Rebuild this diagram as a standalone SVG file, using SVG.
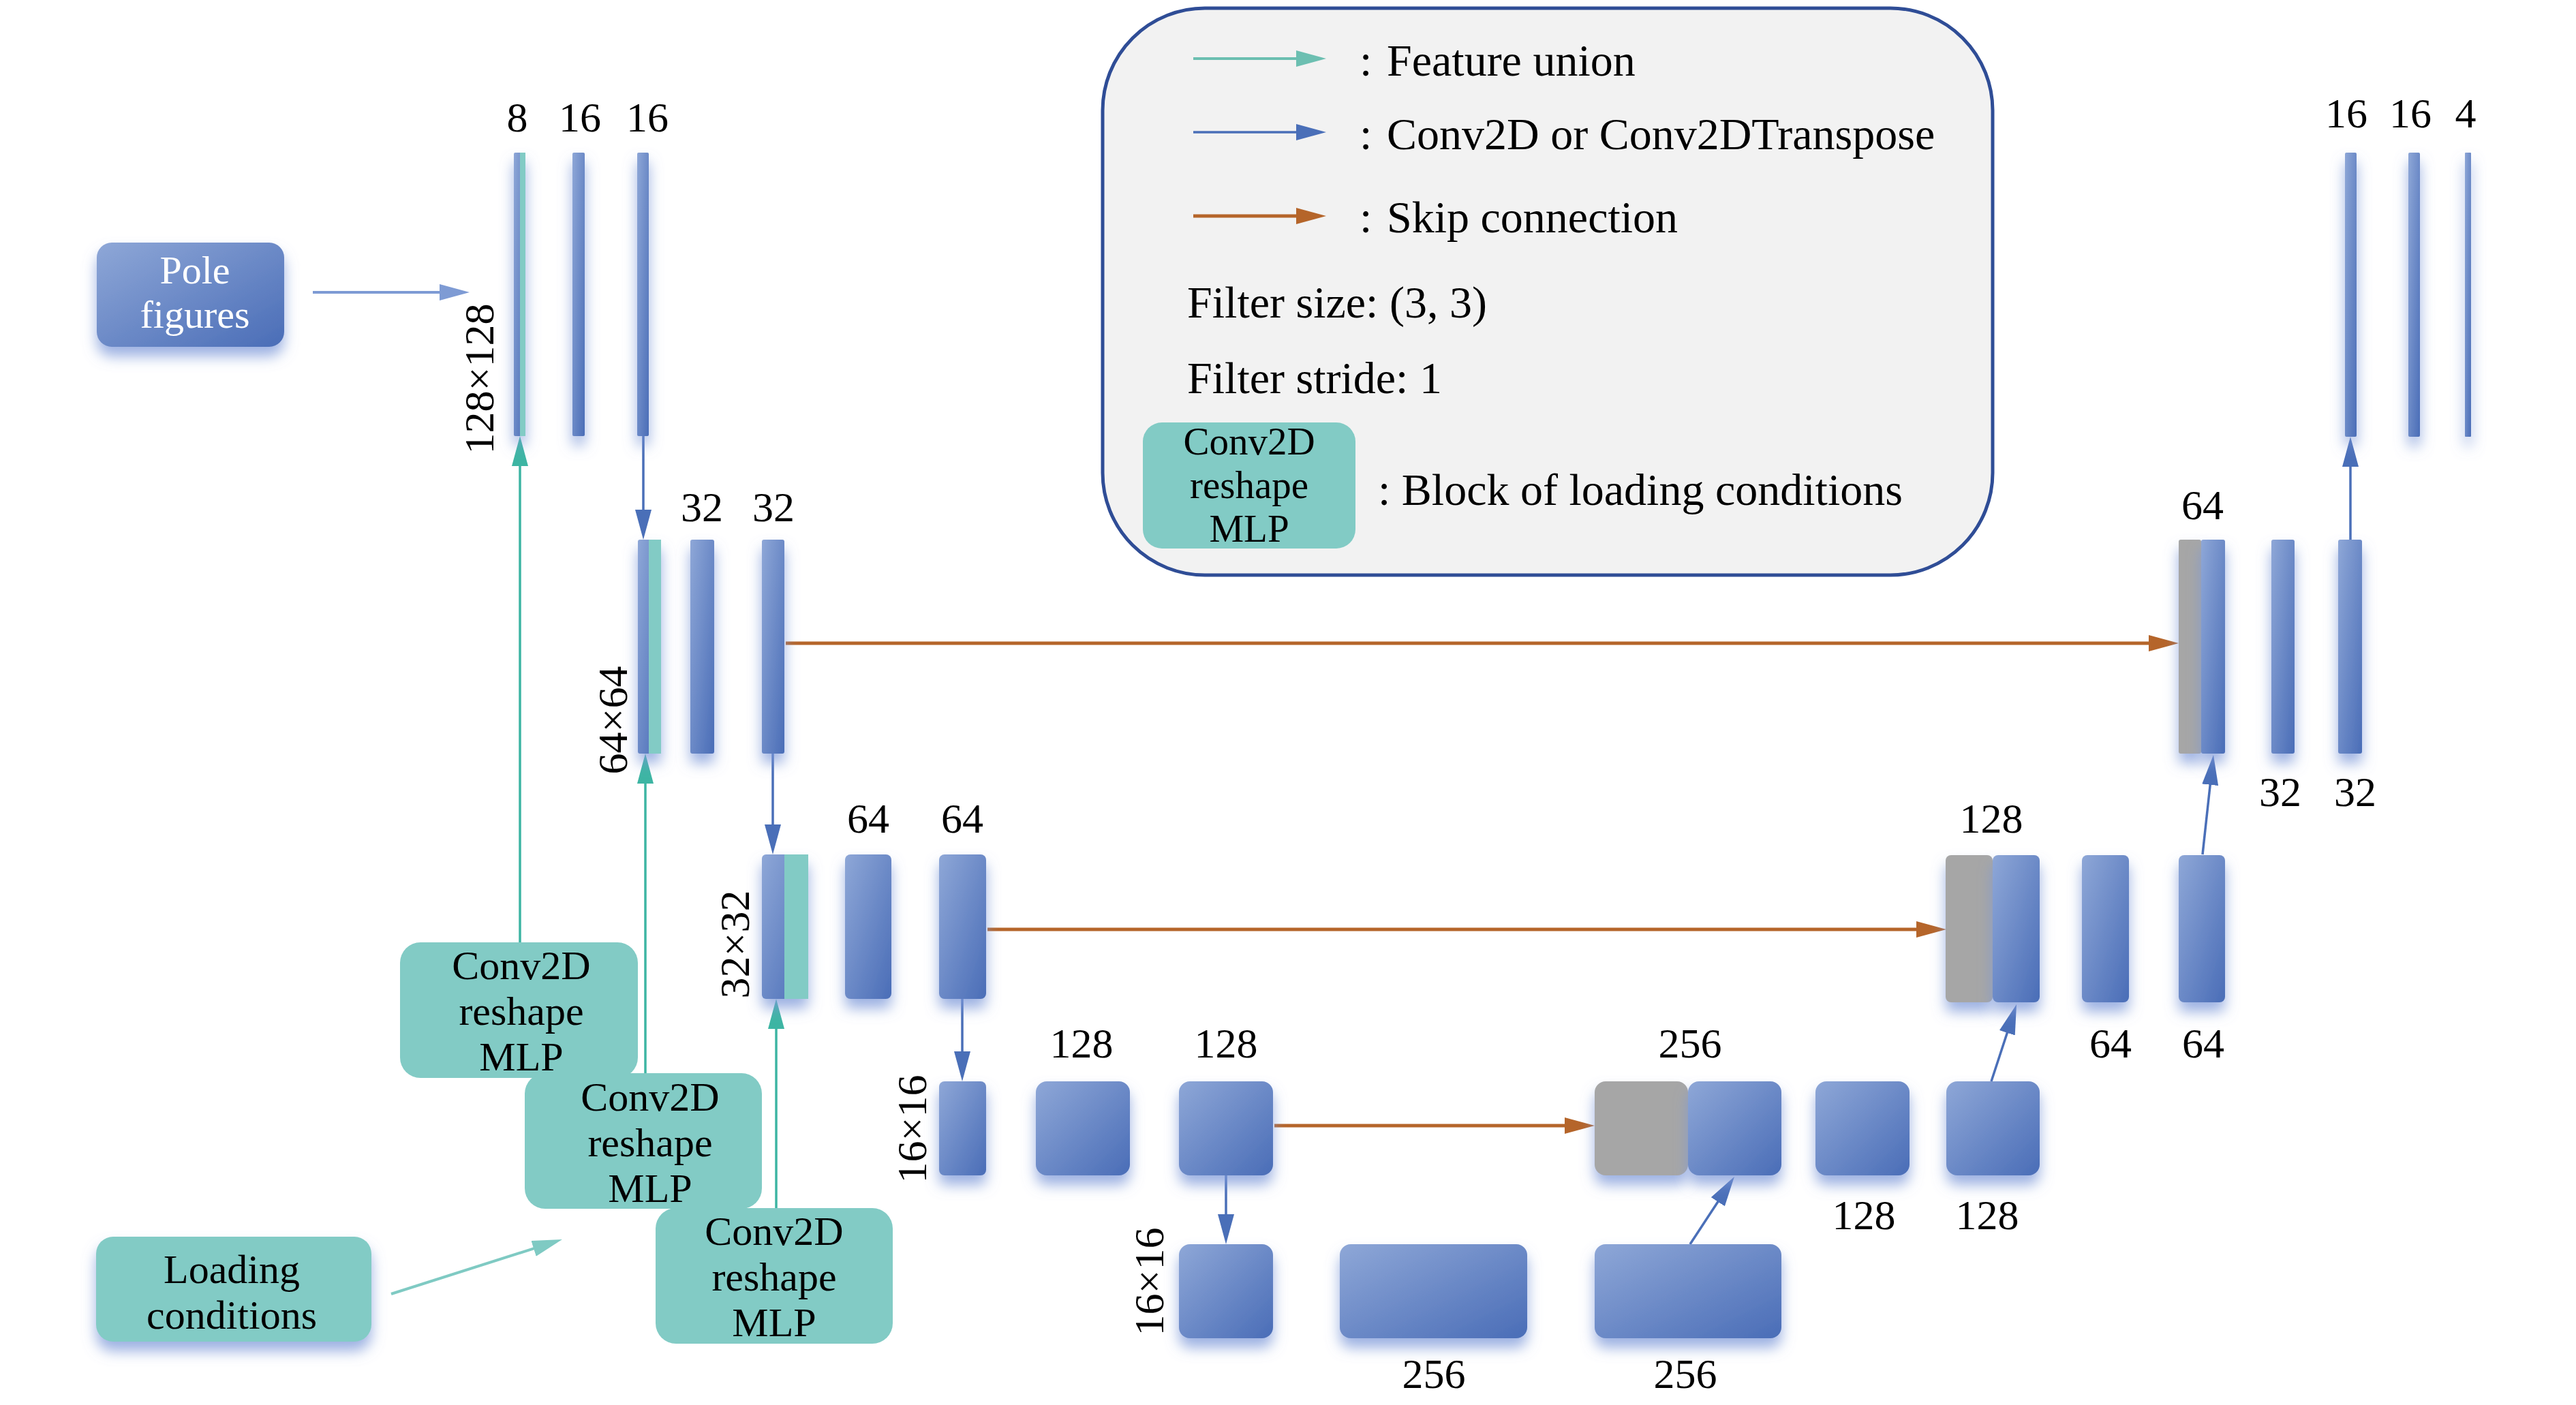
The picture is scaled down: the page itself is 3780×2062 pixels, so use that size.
<svg xmlns="http://www.w3.org/2000/svg" width="3780" height="2062" viewBox="0 0 3780 2062">
<defs>
<style>
.lbl{font-family:"Liberation Serif","Times New Roman",serif;font-size:62px;fill:#000;text-anchor:middle}
.t{font-family:"Liberation Serif","Times New Roman",serif;font-size:66px;fill:#000}
.tc{font-family:"Liberation Serif","Times New Roman",serif;font-size:60px;fill:#000;text-anchor:middle}
.tl{font-family:"Liberation Serif","Times New Roman",serif;font-size:57px;fill:#000;text-anchor:middle}
.tw{font-family:"Liberation Serif","Times New Roman",serif;font-size:58px;fill:#fff;text-anchor:middle}
.blk{fill:url(#bg);filter:url(#sh)}
.gry{fill:#a6a6a6;filter:url(#sh)}
.tea{fill:#82cbc5}
.bl{stroke:#4a6fb8;stroke-width:3.5;fill:none;marker-end:url(#ab)}
.or{stroke:#b5652a;stroke-width:5;fill:none;marker-end:url(#ao)}
.te{stroke:#3db5a3;stroke-width:3.5;fill:none;marker-end:url(#at)}
</style>
<linearGradient id="bg" x1="0" y1="0" x2="1" y2="1">
<stop offset="0" stop-color="#8ea7d7"/>
<stop offset="1" stop-color="#4a6db7"/>
</linearGradient>
<filter id="sh" filterUnits="userSpaceOnUse" x="0" y="0" width="3780" height="2062">
<feGaussianBlur in="SourceAlpha" stdDeviation="10"/>
<feOffset dy="14" result="b"/>
<feFlood flood-color="#7b97d8" flood-opacity="0.75"/>
<feComposite in2="b" operator="in"/>
<feMerge><feMergeNode/><feMergeNode in="SourceGraphic"/></feMerge>
</filter>
<marker id="ab" markerUnits="userSpaceOnUse" markerWidth="44" markerHeight="24" refX="24" refY="12" orient="auto"><path d="M0,0 L44,12 L0,24 z" fill="#4a6fb8"/></marker>
<marker id="ao" markerUnits="userSpaceOnUse" markerWidth="44" markerHeight="24" refX="24" refY="12" orient="auto"><path d="M0,0 L44,12 L0,24 z" fill="#b5652a"/></marker>
<marker id="at" markerUnits="userSpaceOnUse" markerWidth="44" markerHeight="24" refX="24" refY="12" orient="auto"><path d="M0,0 L44,12 L0,24 z" fill="#3db5a3"/></marker>
<marker id="alt" markerUnits="userSpaceOnUse" markerWidth="44" markerHeight="24" refX="24" refY="12" orient="auto"><path d="M0,0 L44,12 L0,24 z" fill="#7fcac3"/></marker>
<marker id="alb" markerUnits="userSpaceOnUse" markerWidth="44" markerHeight="24" refX="24" refY="12" orient="auto"><path d="M0,0 L44,12 L0,24 z" fill="#7e9bd4"/></marker>
<marker id="alg" markerUnits="userSpaceOnUse" markerWidth="44" markerHeight="24" refX="24" refY="12" orient="auto"><path d="M0,0 L44,12 L0,24 z" fill="#6cbfb1"/></marker>
</defs>
<rect width="3780" height="2062" fill="#fff"/>

<g id="legend">
<rect x="1618" y="12" width="1306" height="832" rx="150" fill="#f2f2f2" stroke="#2f4d96" stroke-width="5"/>
<line x1="1751" y1="86" x2="1926" y2="86" stroke="#6cbfb1" stroke-width="4" marker-end="url(#alg)"/>
<line x1="1751" y1="194" x2="1926" y2="194" class="bl"/>
<line x1="1751" y1="317" x2="1926" y2="317" class="or" stroke-width="4"/>
<text class="t" x="1995" y="111">:</text><text class="t" x="2035" y="111">Feature union</text>
<text class="t" x="1995" y="219">:</text><text class="t" x="2035" y="219">Conv2D or Conv2DTranspose</text>
<text class="t" x="1995" y="341">:</text><text class="t" x="2035" y="341">Skip connection</text>
<text class="t" x="1742" y="466">Filter size: (3, 3)</text>
<text class="t" x="1742" y="577">Filter stride: 1</text>
<rect x="1677" y="620" width="312" height="185" rx="28" class="tea"/>
<text class="tl"><tspan x="1833" y="667">Conv2D</tspan><tspan x="1833" y="731">reshape</tspan><tspan x="1833" y="795">MLP</tspan></text>
<text class="t" x="2022" y="741">: Block of loading conditions</text>
</g>

<g id="connectors">
<line x1="459" y1="429" x2="669" y2="429" stroke="#7e9bd4" stroke-width="4" marker-end="url(#alb)"/>
<line x1="944" y1="640" x2="944" y2="772" class="bl"/>
<line x1="1134" y1="1106" x2="1134" y2="1234" class="bl"/>
<line x1="1412" y1="1466" x2="1412" y2="1567" class="bl"/>
<line x1="1799" y1="1725" x2="1799" y2="1806" class="bl"/>
<line x1="2480" y1="1826" x2="2534" y2="1743.7" class="bl"/>
<line x1="2922" y1="1587" x2="2952.8" y2="1493" class="bl"/>
<line x1="3232" y1="1254" x2="3245.8" y2="1127.9" class="bl"/>
<line x1="3449" y1="792" x2="3449" y2="661" class="bl"/>
<line x1="1153" y1="944" x2="3177" y2="944" class="or"/>
<line x1="1449" y1="1364" x2="2836" y2="1364" class="or"/>
<line x1="1870" y1="1652" x2="2320" y2="1652" class="or"/>
<line x1="763" y1="1383" x2="763" y2="660" class="te"/>
<line x1="947" y1="1575" x2="947" y2="1126" class="te"/>
<line x1="1139" y1="1773" x2="1139" y2="1486" class="te"/>
<line x1="574" y1="1899" x2="805.9" y2="1825.1" stroke="#7fcac3" stroke-width="4" marker-end="url(#alt)"/>
</g>

<g id="pole-figures">
<rect x="142" y="356" width="275" height="153" rx="22" class="blk"/>
<text class="tw"><tspan x="286" y="416">Pole</tspan><tspan x="286" y="481">figures</tspan></text>
</g>

<g id="loading-conditions">
<rect x="141" y="1815" width="404" height="154" rx="25" class="tea" filter="url(#sh)"/>
<text class="tc"><tspan x="340" y="1883">Loading</tspan><tspan x="340" y="1950">conditions</tspan></text>
</g>

<g id="mlp-1">
<rect x="587" y="1383" width="349" height="199" rx="30" class="tea"/>
<text class="tc"><tspan x="765" y="1437">Conv2D</tspan><tspan x="765" y="1504">reshape</tspan><tspan x="765" y="1571">MLP</tspan></text>
</g>
<g id="mlp-2">
<rect x="770" y="1575" width="348" height="199" rx="30" class="tea"/>
<text class="tc"><tspan x="954" y="1630">Conv2D</tspan><tspan x="954" y="1697">reshape</tspan><tspan x="954" y="1764">MLP</tspan></text>
</g>
<g id="mlp-3">
<rect x="962" y="1773" width="348" height="199" rx="30" class="tea"/>
<text class="tc"><tspan x="1136" y="1827">Conv2D</tspan><tspan x="1136" y="1894">reshape</tspan><tspan x="1136" y="1961">MLP</tspan></text>
</g>

<g id="enc1">
<rect x="754" y="224" width="17" height="416" rx="2" class="blk"/>
<rect x="763" y="224" width="8" height="416" class="tea"/>
<rect x="840" y="224" width="18" height="416" rx="2" class="blk"/>
<rect x="935" y="224" width="17" height="416" rx="2" class="blk"/>
<text class="lbl" x="759" y="193">8</text>
<text class="lbl" x="851" y="193">16</text>
<text class="lbl" x="950" y="193">16</text>
<text class="lbl" transform="translate(703,556) rotate(-90)" y="21">128×128</text>
</g>

<g id="enc2">
<rect x="936" y="792" width="34" height="314" rx="3" class="blk"/>
<rect x="952" y="792" width="18" height="314" class="tea"/>
<rect x="1013" y="792" width="35" height="314" rx="3" class="blk"/>
<rect x="1118" y="792" width="33" height="314" rx="3" class="blk"/>
<text class="lbl" x="1030" y="765">32</text>
<text class="lbl" x="1135" y="765">32</text>
<text class="lbl" transform="translate(899,1057) rotate(-90)" y="21">64×64</text>
</g>

<g id="enc3">
<rect x="1118" y="1254" width="68" height="212" rx="6" class="blk"/>
<rect x="1151" y="1254" width="35" height="212" class="tea"/>
<rect x="1240" y="1254" width="68" height="212" rx="8" class="blk"/>
<rect x="1378" y="1254" width="69" height="212" rx="8" class="blk"/>
<text class="lbl" x="1274" y="1222">64</text>
<text class="lbl" x="1412" y="1222">64</text>
<text class="lbl" transform="translate(1078,1386) rotate(-90)" y="21">32×32</text>
</g>

<g id="enc4">
<rect x="1378" y="1587" width="69" height="138" rx="8" class="blk"/>
<rect x="1520" y="1587" width="138" height="138" rx="16" class="blk"/>
<rect x="1730" y="1587" width="138" height="138" rx="16" class="blk"/>
<text class="lbl" x="1587" y="1552">128</text>
<text class="lbl" x="1799" y="1552">128</text>
<text class="lbl" transform="translate(1338,1657) rotate(-90)" y="21">16×16</text>
</g>

<g id="bottleneck">
<rect x="1730" y="1826" width="138" height="138" rx="16" class="blk"/>
<rect x="1966" y="1826" width="275" height="138" rx="16" class="blk"/>
<rect x="2340" y="1826" width="274" height="138" rx="16" class="blk"/>
<text class="lbl" x="2104" y="2037">256</text>
<text class="lbl" x="2473" y="2037">256</text>
<text class="lbl" transform="translate(1686,1881) rotate(-90)" y="21">16×16</text>
</g>

<g id="dec4">
<rect x="2340" y="1587" width="137" height="138" rx="16" class="gry"/>
<rect x="2477" y="1587" width="137" height="138" rx="16" class="blk"/>
<rect x="2664" y="1587" width="138" height="138" rx="16" class="blk"/>
<rect x="2856" y="1587" width="137" height="138" rx="16" class="blk"/>
<text class="lbl" x="2480" y="1552">256</text>
<text class="lbl" x="2735" y="1804">128</text>
<text class="lbl" x="2916" y="1804">128</text>
</g>

<g id="dec3">
<rect x="2855" y="1255" width="69" height="216" rx="8" class="gry"/>
<rect x="2924" y="1255" width="69" height="216" rx="8" class="blk"/>
<rect x="3055" y="1255" width="69" height="216" rx="8" class="blk"/>
<rect x="3197" y="1255" width="68" height="216" rx="8" class="blk"/>
<text class="lbl" x="2922" y="1222">128</text>
<text class="lbl" x="3097" y="1552">64</text>
<text class="lbl" x="3233" y="1552">64</text>
</g>

<g id="dec2">
<rect x="3197" y="792" width="33" height="314" rx="3" class="gry"/>
<rect x="3230" y="792" width="35" height="314" rx="3" class="blk"/>
<rect x="3333" y="792" width="34" height="314" rx="3" class="blk"/>
<rect x="3431" y="792" width="35" height="314" rx="3" class="blk"/>
<text class="lbl" x="3232" y="762">64</text>
<text class="lbl" x="3346" y="1183">32</text>
<text class="lbl" x="3456" y="1183">32</text>
</g>

<g id="dec1">
<rect x="3441" y="224" width="17" height="417" rx="2" class="blk"/>
<rect x="3534" y="224" width="17" height="417" rx="2" class="blk"/>
<rect x="3617" y="224" width="9" height="417" rx="1" class="blk"/>
<text class="lbl" x="3443" y="187">16</text>
<text class="lbl" x="3537" y="187">16</text>
<text class="lbl" x="3618" y="187">4</text>
</g>
</svg>
